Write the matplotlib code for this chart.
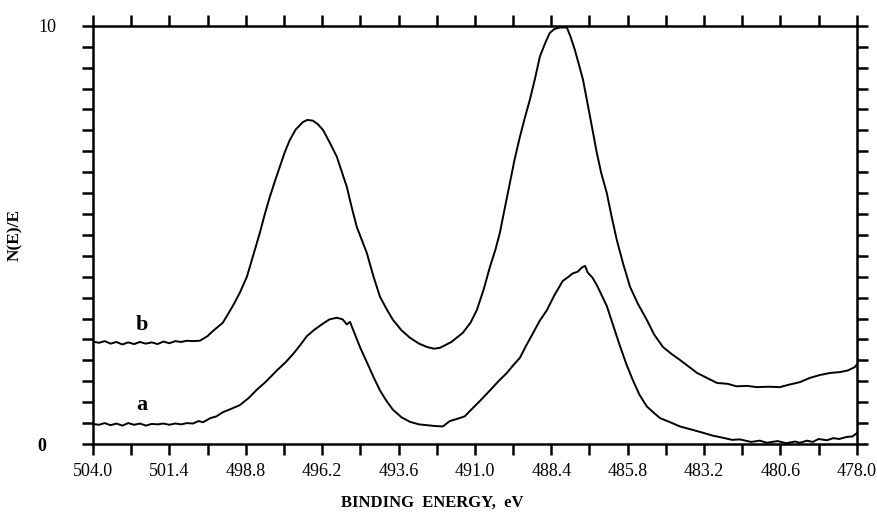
import numpy as np
import matplotlib
matplotlib.use("Agg")
import matplotlib.pyplot as plt
from matplotlib.ticker import FixedLocator
from matplotlib.transforms import ScaledTranslation

plt.rcParams['font.family'] = ['Liberation Serif', 'DejaVu Serif']

# Curve a (lower spectrum): binding energy (eV) and N(E)/E
energy_a = [504.0, 503.8, 503.6, 503.4, 503.2, 503.0, 502.8, 502.6, 502.4, 502.2,
            502.0, 501.8, 501.6, 501.4, 501.2, 501.0, 500.8, 500.6, 500.4, 500.26,
            500.0, 499.8, 499.58, 499.3, 499.0, 498.7, 498.42, 498.1, 497.74, 497.45,
            497.19, 496.95, 496.72, 496.45, 496.17, 495.95, 495.70, 495.5, 495.36, 495.25,
            495.15, 494.9, 494.68, 494.45, 494.23, 494.0, 493.79, 493.5, 493.21, 492.9,
            492.63, 492.35, 492.09, 491.85, 491.61, 491.35, 491.07, 490.8, 490.49, 490.2,
            489.91, 489.7, 489.47, 489.25, 489.03, 488.8, 488.55, 488.3, 488.01, 487.85,
            487.67, 487.5, 487.36, 487.25, 487.16, 487.0, 486.85, 486.7, 486.51, 486.3,
            486.07, 485.85, 485.62, 485.4, 485.15, 484.9, 484.70, 484.35, 484.02, 483.6,
            483.24, 482.9, 482.56, 482.25, 481.98, 481.6, 481.3, 481.06, 480.7, 480.4,
            480.1, 479.94, 479.7, 479.5, 479.3, 479.02, 478.8, 478.6, 478.34, 478.15, 478.0]
signal_a = [0.48, 0.46, 0.50, 0.45, 0.49, 0.44, 0.50, 0.46, 0.49, 0.44,
            0.48, 0.47, 0.49, 0.46, 0.49, 0.47, 0.50, 0.49, 0.55, 0.52,
            0.62, 0.66, 0.76, 0.84, 0.93, 1.10, 1.30, 1.50, 1.76, 1.95,
            2.15, 2.36, 2.58, 2.74, 2.88, 2.98, 3.02, 2.98, 2.86, 2.92,
            2.74, 2.30, 1.96, 1.60, 1.28, 1.02, 0.82, 0.64, 0.53, 0.47,
            0.45, 0.43, 0.42, 0.55, 0.60, 0.66, 0.86, 1.05, 1.28, 1.50,
            1.70, 1.88, 2.06, 2.36, 2.64, 2.94, 3.20, 3.55, 3.90, 3.98,
            4.08, 4.12, 4.22, 4.26, 4.10, 3.98, 3.80, 3.58, 3.30, 2.85,
            2.36, 1.92, 1.52, 1.18, 0.90, 0.74, 0.62, 0.52, 0.42, 0.34,
            0.27, 0.20, 0.15, 0.10, 0.11, 0.05, 0.08, 0.03, 0.07, 0.02,
            0.06, 0.03, 0.08, 0.05, 0.12, 0.09, 0.14, 0.12, 0.17, 0.18, 0.26]

# Curve b (upper spectrum)
energy_b = [504.0, 503.8, 503.6, 503.4, 503.2, 503.0, 502.8, 502.6, 502.4, 502.2,
            502.0, 501.8, 501.6, 501.4, 501.2, 501.0, 500.8, 500.6, 500.36, 500.1,
            499.92, 499.58, 499.24, 499.0, 498.76, 498.55, 498.32, 498.15, 497.98, 497.8,
            497.64, 497.47, 497.30, 497.1, 496.85, 496.7, 496.51, 496.35, 496.17, 495.95,
            495.70, 495.55, 495.36, 495.2, 495.02, 494.85, 494.68, 494.45, 494.23, 494.0,
            493.79, 493.5, 493.21, 492.9, 492.63, 492.4, 492.19, 491.8, 491.41, 491.15,
            490.93, 490.7, 490.49, 490.3, 490.15, 489.98, 489.81, 489.65, 489.47, 489.3,
            489.13, 488.95, 488.79, 488.6, 488.45, 488.3, 488.11, 487.87, 487.75, 487.60,
            487.45, 487.32, 487.1, 486.85, 486.7, 486.51, 486.35, 486.17, 485.95, 485.72,
            485.45, 485.15, 484.9, 484.60, 484.3, 484.02, 483.7, 483.44, 483.1, 482.76,
            482.4, 482.1, 481.74, 481.4, 481.0, 480.62, 480.3, 479.94, 479.6, 479.26,
            478.9, 478.58, 478.3, 478.07, 478.0]
signal_b = [2.45, 2.42, 2.46, 2.40, 2.44, 2.38, 2.43, 2.39, 2.44, 2.40,
            2.43, 2.39, 2.45, 2.41, 2.46, 2.44, 2.47, 2.46, 2.47, 2.58,
            2.70, 2.90, 3.30, 3.62, 4.00, 4.50, 5.05, 5.50, 5.91, 6.30,
            6.63, 6.98, 7.27, 7.52, 7.70, 7.75, 7.73, 7.65, 7.51, 7.22,
            6.87, 6.55, 6.15, 5.68, 5.19, 4.88, 4.57, 4.00, 3.52, 3.22,
            2.97, 2.72, 2.54, 2.40, 2.32, 2.28, 2.30, 2.44, 2.66, 2.90,
            3.21, 3.70, 4.23, 4.65, 5.05, 5.65, 6.24, 6.80, 7.34, 7.80,
            8.23, 8.75, 9.26, 9.60, 9.83, 9.92, 9.96, 9.96, 9.75, 9.43,
            9.05, 8.71, 7.90, 6.96, 6.48, 6.00, 5.45, 4.88, 4.30, 3.76,
            3.35, 2.97, 2.62, 2.32, 2.15, 2.01, 1.84, 1.70, 1.58, 1.46,
            1.44, 1.38, 1.39, 1.36, 1.37, 1.36, 1.42, 1.48, 1.58, 1.65,
            1.70, 1.72, 1.76, 1.84, 1.90]

xtick_vals = [504.0, 501.4, 498.8, 496.2, 493.6, 491.0, 488.4, 485.8, 483.2, 480.6, 478.0]
xtick_labels = ["504.0", "501.4", "498.8", "496.2", "493.6", "491.0", "488.4",
                "485.8", "483.2", "480.6", "478.0"]
ytick_vals = [0, 10]
ytick_labels = ["0", "10"]

fig = plt.figure(figsize=(8.77, 5.16), dpi=100)
ax = fig.add_axes([0.106, 0.1395, 0.871, 0.8105])

ax.plot(energy_a, signal_a, color='black', lw=1.4)
ax.plot(energy_b, signal_b, color='black', lw=1.4)

ax.set_xlim(504.0, 478.0)
ax.set_ylim(0, 10)

# ticks
ax.xaxis.set_major_locator(FixedLocator(xtick_vals))
ax.set_xticklabels(xtick_labels)
minor_x = [v - 1.3 for v in xtick_vals[:-1]]
ax.xaxis.set_minor_locator(FixedLocator(minor_x))
ax.yaxis.set_major_locator(FixedLocator(ytick_vals))
ax.set_yticklabels(ytick_labels)
ax.yaxis.set_minor_locator(FixedLocator(list(np.arange(0.5, 10.0, 0.5))))

ax.tick_params(which='both', direction='out', length=8, width=1.8,
               top=True, right=True, bottom=True, left=True, color='black')
ax.tick_params(axis='x', which='major', labelsize=13, pad=6)
ax.tick_params(axis='y', which='major', labelsize=13, pad=18)

# the "0" label sits further left and is bolder in the original
zero_lbl = ax.get_yticklabels()[0]
zero_lbl.set_fontweight('bold')
zero_lbl.set_transform(zero_lbl.get_transform() + ScaledTranslation(-0.11, 0, fig.dpi_scale_trans))

for s in ax.spines.values():
    s.set_linewidth(1.8)

ax.set_xlabel("BINDING  ENERGY,  eV", fontsize=12, fontweight='bold')
ax.xaxis.set_label_coords(0.444, -0.122)
ax.set_ylabel("N(E)/E", fontsize=12.5, fontweight='bold')
ax.yaxis.set_label_coords(-0.091, 0.5)

ax.text(502.33, 2.85, "b", fontsize=16, fontweight='bold', ha='center', va='center')
ax.text(502.33, 0.93, "a", fontsize=16, fontweight='bold', ha='center', va='center')

fig.savefig("out.png", dpi=100)
